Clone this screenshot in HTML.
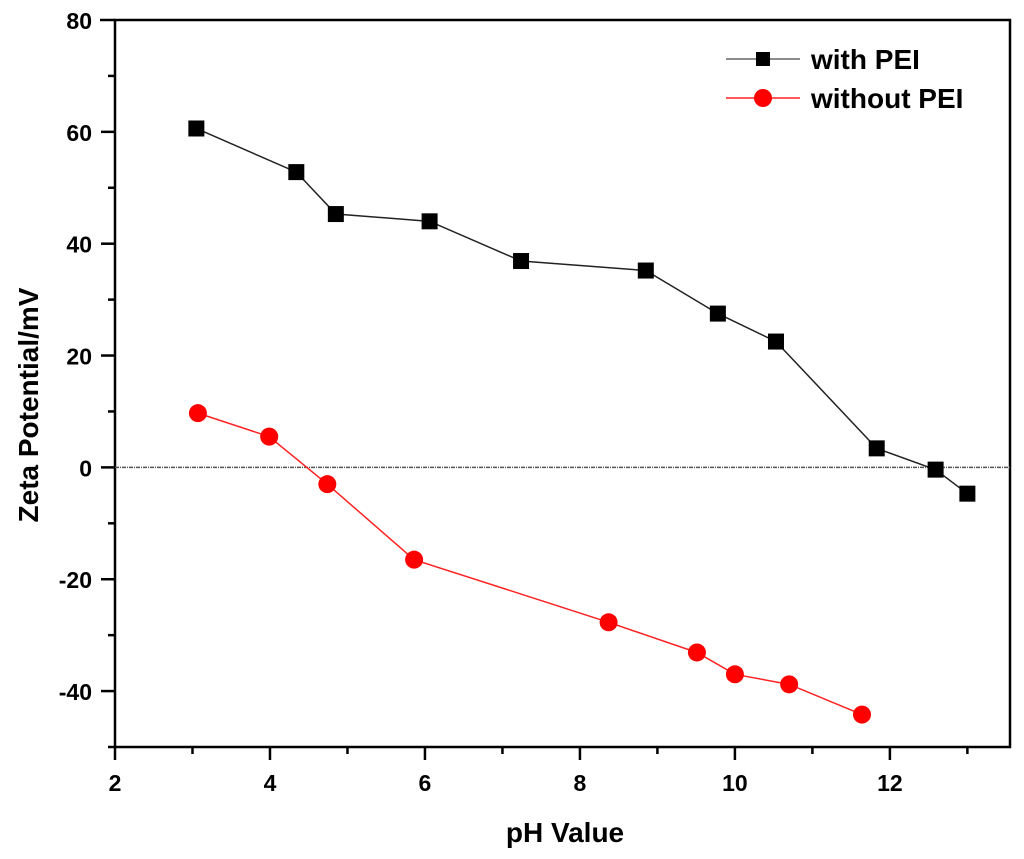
<!DOCTYPE html>
<html><head><meta charset="utf-8"><style>
html,body{margin:0;padding:0;background:#fff;}
svg{display:block;font-family:"Liberation Sans",Arial,sans-serif;font-weight:bold;}
</style></head><body>
<svg id="chart" width="1024" height="859" xmlns="http://www.w3.org/2000/svg">
<g id="axes"></g><g id="series"></g><g id="legend"></g>
</svg>
<script>
const phWith=[3.05,4.34,4.85,6.06,7.24,8.85,9.78,10.53,11.83,12.59,13.0];
const zetaWith=[60.6,52.8,45.3,44.0,36.9,35.2,27.5,22.5,3.4,-0.4,-4.7];
const phWithout=[3.07,3.99,4.74,5.86,8.37,9.51,10.0,10.70,11.64];
const zetaWithout=[9.7,5.5,-3.0,-16.5,-27.7,-33.1,-37.0,-38.8,-44.2];
const xTicks=[2,4,6,8,10,12];
const yTicks=[80,60,40,20,0,-20,-40];
const X0=115,X1=1010,Y0=20,Y1=747;
const xMin=2,xMax=13.55,yMin=-50,yMax=80;
const sx=v=>X0+(v-xMin)/(xMax-xMin)*(X1-X0);
const sy=v=>Y1-(v-yMin)/(yMax-yMin)*(Y1-Y0);
const NS="http://www.w3.org/2000/svg";
function mk(tag,attrs,parent,text){const e=document.createElementNS(NS,tag);for(const k in attrs)e.setAttribute(k,attrs[k]);if(text!==undefined)e.textContent=text;parent.appendChild(e);return e;}
const axes=document.getElementById('axes'),series=document.getElementById('series'),legend=document.getElementById('legend');
let e;
e=mk('rect',{x:X0,y:Y0,width:X1-X0,height:Y1-Y0,fill:'none',stroke:'#000','stroke-width':2.5},axes);


e=mk('line',{x1:100,y1:Y0,x2:X0,y2:Y0,stroke:'#000','stroke-width':2.5},axes);


for(let v=-50;v<=70;v+=10){
 const maj=(v%20===0);
 e=mk('line',{x1:X0-(maj?14:7),y1:sy(v),x2:X0,y2:sy(v),stroke:'#000','stroke-width':2.5},axes);
 
 
}
yTicks.forEach(v=>{
 e=mk('text',{x:92,y:sy(v)+9,'text-anchor':'end','font-size':23},axes,String(v));
 
 
});
for(let v=2;v<=13;v++){
 const maj=(v%2===0);
 e=mk('line',{x1:sx(v),y1:Y1,x2:sx(v),y2:Y1+(maj?13:7),stroke:'#000','stroke-width':2.5},axes);
 
 
}
xTicks.forEach(v=>{
 e=mk('text',{x:sx(v),y:791,'text-anchor':'middle','font-size':23},axes,String(v));
 
 
});
e=mk('text',{x:565,y:842,'text-anchor':'middle','font-size':28},axes,'pH Value');


e=mk('text',{x:0,y:0,'text-anchor':'middle','font-size':28,transform:'translate(38,405) rotate(-90)'},axes,'Zeta Potential/mV');


e=mk('line',{x1:X0,y1:sy(0),x2:X1,y2:sy(0),stroke:'#555','stroke-width':1.5,'stroke-dasharray':'4,1,1,1'},axes);



e=mk('polyline',{points:phWith.map((p,i)=>sx(p)+','+sy(zetaWith[i])).join(' '),fill:'none',stroke:'#222','stroke-width':1.5},series);


phWith.forEach((p,i)=>{
 e=mk('rect',{x:sx(p)-8,y:sy(zetaWith[i])-8,width:16,height:16,fill:'#000'},series);
 
 
});
e=mk('polyline',{points:phWithout.map((p,i)=>sx(p)+','+sy(zetaWithout[i])).join(' '),fill:'none',stroke:'#f22','stroke-width':1.5},series);


phWithout.forEach((p,i)=>{
 e=mk('circle',{cx:sx(p),cy:sy(zetaWithout[i]),r:9,fill:'#f00'},series);
 
 
});

e=mk('line',{x1:726,y1:59,x2:800,y2:59,stroke:'#666','stroke-width':1.5},legend);


e=mk('rect',{x:756,y:52,width:14,height:14,fill:'#000'},legend);


e=mk('text',{x:811,y:69,'font-size':28},legend,'with PEI');


e=mk('line',{x1:726,y1:98,x2:800,y2:98,stroke:'#f22','stroke-width':1.5},legend);


e=mk('circle',{cx:763,cy:98,r:9,fill:'#f00'},legend);


e=mk('text',{x:811,y:108,'font-size':28},legend,'without PEI');


</script>
</body></html>
